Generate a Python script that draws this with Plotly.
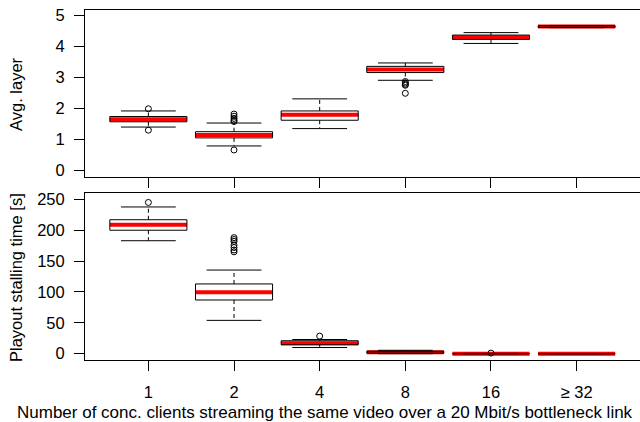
import plotly.graph_objects as go

# ---------------- data ----------------
categories = ["1", "2", "4", "8", "16", "≥ 32"]

# Avg. layer (top panel)
layer_lo = [1.40, 0.79, 1.35, 2.91, 4.10, 4.61]
layer_q1 = [1.57, 1.05, 1.62, 3.16, 4.23, 4.62]
layer_med = [1.65, 1.14, 1.80, 3.26, 4.30, 4.65]
layer_q3 = [1.74, 1.25, 1.92, 3.36, 4.37, 4.67]
layer_hi = [1.92, 1.53, 2.31, 3.47, 4.45, 4.68]
layer_out = [[1.99, 1.30], [1.58, 1.62, 1.68, 1.75, 1.82, 0.66], [], [2.87, 2.82, 2.78, 2.75, 2.49], [], []]

# Playout stalling time [s] (bottom panel)
stall_lo = [183, 54, 10, 0, 0, 0]
stall_q1 = [200, 87, 14.5, 1, 0, 0]
stall_med = [209, 99.5, 17, 2.5, 0, 0]
stall_q3 = [217, 113, 21, 4, 0.3, 0]
stall_hi = [237.7, 135.5, 23, 5.5, 0.5, 0]
stall_out = [[245], [188, 185, 182, 176, 172, 168, 165], [28.5], [], [1], []]

layer_ticks = [0, 1, 2, 3, 4, 5]
stall_ticks = [0, 50, 100, 150, 200, 250]

BOX_HALF = 0.45
CAP_HALF = 0.32

fig = go.Figure()


def add_panel(lo, q1, med, q3, hi, outs, xa, ya):
    n = len(lo)
    pos = list(range(1, n + 1))
    # white box fills
    for i in range(n):
        c = pos[i]
        fig.add_trace(go.Scatter(
            x=[c - BOX_HALF, c + BOX_HALF, c + BOX_HALF, c - BOX_HALF, c - BOX_HALF],
            y=[q1[i], q1[i], q3[i], q3[i], q1[i]],
            mode="lines", fill="toself", fillcolor="white",
            line=dict(width=0, color="rgba(0,0,0,0)"),
            xaxis=xa, yaxis=ya, hoverinfo="skip", showlegend=False))
    # red medians
    mx, my = [], []
    for i in range(n):
        c = pos[i]
        mx += [c - BOX_HALF, c + BOX_HALF, None]
        my += [med[i], med[i], None]
    fig.add_trace(go.Scatter(x=mx, y=my, mode="lines",
                             line=dict(color="#ff0000", width=4),
                             xaxis=xa, yaxis=ya, hoverinfo="skip", showlegend=False))
    # box outlines
    bx, by = [], []
    for i in range(n):
        c = pos[i]
        bx += [c - BOX_HALF, c + BOX_HALF, c + BOX_HALF, c - BOX_HALF, c - BOX_HALF, None]
        by += [q1[i], q1[i], q3[i], q3[i], q1[i], None]
    fig.add_trace(go.Scatter(x=bx, y=by, mode="lines",
                             line=dict(color="black", width=1),
                             xaxis=xa, yaxis=ya, hoverinfo="skip", showlegend=False))
    # dashed whiskers
    wx, wy = [], []
    for i in range(n):
        c = pos[i]
        wx += [c, c, None, c, c, None]
        wy += [q3[i], hi[i], None, q1[i], lo[i], None]
    fig.add_trace(go.Scatter(x=wx, y=wy, mode="lines",
                             line=dict(color="black", width=1, dash="4px,3px"),
                             xaxis=xa, yaxis=ya, hoverinfo="skip", showlegend=False))
    # caps
    cx, cy = [], []
    for i in range(n):
        c = pos[i]
        cx += [c - CAP_HALF, c + CAP_HALF, None, c - CAP_HALF, c + CAP_HALF, None]
        cy += [hi[i], hi[i], None, lo[i], lo[i], None]
    fig.add_trace(go.Scatter(x=cx, y=cy, mode="lines",
                             line=dict(color="black", width=1),
                             xaxis=xa, yaxis=ya, hoverinfo="skip", showlegend=False))
    # outliers
    ox, oy = [], []
    for i in range(n):
        for v in outs[i]:
            ox.append(pos[i])
            oy.append(v)
    fig.add_trace(go.Scatter(x=ox, y=oy, mode="markers",
                             marker=dict(symbol="circle-open", size=6, color="black",
                                         line=dict(width=1, color="black")),
                             xaxis=xa, yaxis=ya, hoverinfo="skip", showlegend=False))


add_panel(layer_lo, layer_q1, layer_med, layer_q3, layer_hi, layer_out, "x", "y")
add_panel(stall_lo, stall_q1, stall_med, stall_q3, stall_hi, stall_out, "x2", "y2")

FONT = "Liberation Sans, Arial, sans-serif"
tickfont = dict(family=FONT, size=16.5, color="black")
titlefont = dict(family=FONT, size=16.5, color="black")

common_x = dict(range=[0.26, 6.74], showgrid=False, zeroline=False, automargin=False,
                showline=True, linecolor="black", linewidth=1, mirror=True,
                ticks="outside", ticklen=10, tickcolor="black", tickwidth=1,
                tickmode="array", tickvals=[1, 2, 3, 4, 5, 6])
common_y = dict(showgrid=False, zeroline=False, showline=True, linecolor="black",
                automargin=False,
                linewidth=1, mirror=False, ticks="outside", ticklen=10,
                tickcolor="black", tickwidth=1, tickfont=tickfont, tickmode="array",
                ticklabelstandoff=6)

fig.update_layout(
    width=640, height=422,
    margin=dict(l=85, r=0, t=10, b=62),
    plot_bgcolor="white", paper_bgcolor="white",
    font=dict(family=FONT, size=16, color="black"),
    showlegend=False,
    xaxis=dict(common_x, anchor="y", ticktext=[""] * 6, showticklabels=False),
    yaxis=dict(common_y, domain=[0.524, 1.0], range=[-0.2, 5.18],
               tickvals=layer_ticks, ticktext=[str(t) for t in layer_ticks]),
    xaxis2=dict(common_x, anchor="y2", ticktext=categories, tickfont=tickfont,
                ticklabelstandoff=7),
    yaxis2=dict(common_y, domain=[0.0, 0.478], range=[-10.2, 260.8],
                tickvals=stall_ticks, ticktext=[str(t) for t in stall_ticks]),
)

fig.add_annotation(text="Avg. layer", xref="paper", yref="paper",
                   x=(16 - 85) / 555, y=(360 - 94) / 350, textangle=-90,
                   xanchor="center", yanchor="middle", showarrow=False,
                   font=titlefont)
fig.add_annotation(text="Playout stalling time [s]", xref="paper", yref="paper",
                   x=(16 - 85) / 555, y=(360 - 278) / 350, textangle=-90,
                   xanchor="center", yanchor="middle", showarrow=False,
                   font=titlefont)
fig.add_annotation(text="Number of conc. clients streaming the same video over a 20 Mbit/s bottleneck link",
                   xref="paper", yref="paper",
                   x=(324.5 - 85) / 555, y=(360 - 412) / 350,
                   xanchor="center", yanchor="middle", showarrow=False,
                   font=dict(family=FONT, size=17, color="black"))

fig.write_html("out.html", config={"displayModeBar": False},
               post_script="document.body.style.margin='0';document.body.style.overflow='hidden';")
